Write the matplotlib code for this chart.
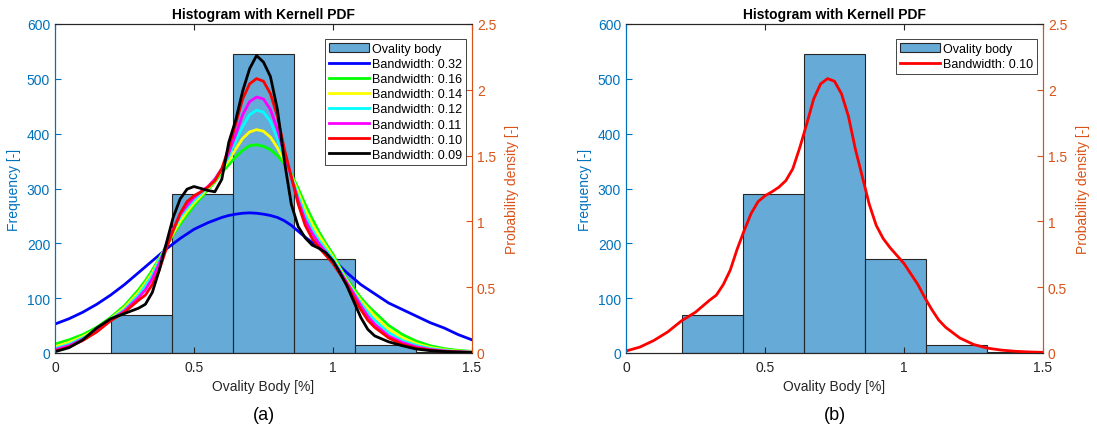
import matplotlib
matplotlib.use("Agg")
import matplotlib.pyplot as plt
import numpy as np

plt.rcParams["font.family"] = ["Liberation Sans", "DejaVu Sans"]

# histogram of ovality (bin edges in %, counts)
bin_edges = [0.2, 0.42, 0.64, 0.86, 1.08, 1.30, 1.52]
counts = [69, 290, 546, 172, 15, 2]

# kernel pdf curves (density on right axis)
x_pdf = [0, 0.05, 0.1, 0.15, 0.2, 0.25,
         0.3, 0.325, 0.35, 0.375, 0.4, 0.425, 0.45, 0.475, 0.5, 0.525, 0.55, 0.575, 0.6,
         0.625, 0.65, 0.675, 0.7, 0.725, 0.75, 0.775, 0.8, 0.825, 0.85,
         0.875, 0.9, 0.925, 0.95, 0.975, 1.0, 1.025, 1.05, 1.075, 1.1, 1.125, 1.15,
         1.2, 1.25, 1.3, 1.35, 1.4, 1.45, 1.5]
pdf_032 = [0.22, 0.26, 0.31, 0.37, 0.44, 0.52,
           0.61, 0.655, 0.70, 0.745, 0.79, 0.83, 0.87, 0.905, 0.94, 0.965, 0.99, 1.01, 1.03,
           1.045, 1.055, 1.062, 1.065, 1.062, 1.055, 1.045, 1.03, 1.005, 0.97,
           0.925, 0.88, 0.84, 0.80, 0.755, 0.71, 0.66, 0.61, 0.565, 0.52, 0.485, 0.45,
           0.38, 0.33, 0.28, 0.23, 0.19, 0.14, 0.10]
pdf_016 = [0.068, 0.10, 0.14, 0.195, 0.27, 0.36,
           0.48, 0.55, 0.63, 0.72, 0.81, 0.90, 0.98, 1.05, 1.12, 1.18, 1.24, 1.30, 1.37,
           1.43, 1.49, 1.54, 1.575, 1.583, 1.57, 1.545, 1.50, 1.44, 1.36,
           1.25, 1.13, 1.02, 0.92, 0.83, 0.75, 0.65, 0.56, 0.49, 0.42, 0.36, 0.31,
           0.21, 0.14, 0.09, 0.055, 0.033, 0.02, 0.012]
pdf_014 = [0.048, 0.08, 0.125, 0.18, 0.26, 0.345,
           0.46, 0.53, 0.61, 0.71, 0.815, 0.91, 1.00, 1.075, 1.14, 1.195, 1.25, 1.31, 1.39,
           1.46, 1.55, 1.63, 1.68, 1.697, 1.685, 1.64, 1.56, 1.46, 1.35,
           1.22, 1.09, 0.98, 0.89, 0.81, 0.73, 0.64, 0.55, 0.47, 0.40, 0.34, 0.28,
           0.18, 0.115, 0.07, 0.042, 0.025, 0.015, 0.009]
pdf_012 = [0.035, 0.065, 0.115, 0.17, 0.255, 0.33,
           0.44, 0.51, 0.59, 0.70, 0.82, 0.93, 1.03, 1.10, 1.16, 1.21, 1.26, 1.32, 1.40,
           1.49, 1.61, 1.72, 1.81, 1.845, 1.83, 1.76, 1.63, 1.48, 1.34,
           1.19, 1.05, 0.94, 0.855, 0.785, 0.715, 0.63, 0.54, 0.46, 0.38, 0.31, 0.25,
           0.155, 0.095, 0.058, 0.034, 0.02, 0.012, 0.007]
pdf_011 = [0.025, 0.055, 0.105, 0.165, 0.25, 0.32,
           0.42, 0.48, 0.565, 0.68, 0.82, 0.94, 1.05, 1.12, 1.18, 1.225, 1.265, 1.32, 1.40,
           1.52, 1.66, 1.81, 1.91, 1.945, 1.93, 1.85, 1.70, 1.51, 1.335,
           1.16, 1.01, 0.91, 0.83, 0.765, 0.70, 0.62, 0.535, 0.45, 0.36, 0.28, 0.22,
           0.13, 0.08, 0.047, 0.027, 0.016, 0.009, 0.006]
pdf_010 = [0.015, 0.045, 0.095, 0.16, 0.245, 0.31,
           0.40, 0.44, 0.52, 0.63, 0.79, 0.93, 1.06, 1.15, 1.195, 1.225, 1.26, 1.31, 1.40,
           1.56, 1.74, 1.93, 2.045, 2.085, 2.065, 1.97, 1.80, 1.55, 1.34,
           1.13, 0.97, 0.87, 0.80, 0.74, 0.68, 0.60, 0.52, 0.42, 0.33, 0.25, 0.195,
           0.115, 0.065, 0.037, 0.022, 0.013, 0.008, 0.005]
pdf_009 = [0.01, 0.04, 0.10, 0.19, 0.26, 0.30,
           0.34, 0.37, 0.46, 0.63, 0.83, 1.03, 1.17, 1.245, 1.265, 1.25, 1.235, 1.225, 1.32,
           1.60, 1.77, 1.99, 2.16, 2.26, 2.21, 2.10, 1.85, 1.46, 1.13,
           0.96, 0.875, 0.82, 0.795, 0.76, 0.70, 0.61, 0.51, 0.39, 0.27, 0.18, 0.13,
           0.085, 0.055, 0.03, 0.018, 0.011, 0.007, 0.004]

curves_a = [("0.32", pdf_032, "#0000ff"), ("0.16", pdf_016, "#00ff00"),
            ("0.14", pdf_014, "#ffff00"), ("0.12", pdf_012, "#00ffff"),
            ("0.11", pdf_011, "#ff00ff"), ("0.10", pdf_010, "#ff0000"),
            ("0.09", pdf_009, "#000000")]
curves_b = [("0.10", pdf_010, "#ff0000")]

BLUE = "#0072BD"
ORANGE = "#D95319"
GREY = "#262626"


def draw_panel(ax, curves, tag):
    edges = np.array(bin_edges)
    ax.bar(edges[:-1], counts, width=np.diff(edges), align="edge",
           facecolor=(0, 0.447, 0.741, 0.6), edgecolor=GREY, linewidth=0.8,
           label="Ovality body")
    ax.set_xlim(0, 1.5)
    ax.set_ylim(0, 600)
    ax.set_xticks([0, 0.5, 1, 1.5])
    ax.set_xticklabels(["0", "0.5", "1", "1.5"])
    ax.set_yticks(range(0, 601, 100))
    ax.tick_params(axis="x", direction="in", length=4, top=True, colors=GREY,
                   labelsize=10, pad=5)
    ax.tick_params(axis="y", direction="in", length=4, colors=BLUE, labelsize=10)
    ax.set_xlabel("Ovality Body [%]", color=GREY, fontsize=10, labelpad=4)
    ax.set_ylabel("Frequency [-]", color=BLUE, fontsize=10, labelpad=4)
    ax.set_title("Histogram with Kernell PDF", fontsize=10, fontweight="bold", pad=4)

    ax2 = ax.twinx()
    for bw, y, col in curves:
        ax2.plot(x_pdf, y, color=col, linewidth=2, solid_joinstyle="round",
                 label="Bandwidth: " + bw)
    ax2.set_ylim(0, 2.5)
    ax2.set_yticks([0, 0.5, 1, 1.5, 2, 2.5])
    ax2.set_yticklabels(["0", "0.5", "1", "1.5", "2", "2.5"])
    ax2.tick_params(axis="y", direction="in", length=4, colors=ORANGE, labelsize=10)
    ax2.set_ylabel("Probability density [-]", color=ORANGE, fontsize=10, labelpad=6)

    for a in (ax, ax2):
        a.spines["top"].set_color(GREY)
        a.spines["bottom"].set_color(GREY)
        a.spines["left"].set_color(BLUE)
        a.spines["right"].set_color(ORANGE)
        for s in a.spines.values():
            s.set_linewidth(0.8)

    h1, l1 = ax.get_legend_handles_labels()
    h2, l2 = ax2.get_legend_handles_labels()
    leg = ax2.legend(h1 + h2, l1 + l2, loc="upper right",
                     bbox_to_anchor=(0.986, 0.954), borderaxespad=0,
                     fontsize=9, handlelength=3.2, handletextpad=0.3,
                     borderpad=0.3, labelspacing=0.25, fancybox=False,
                     framealpha=1)
    leg.get_frame().set_edgecolor(GREY)
    leg.get_frame().set_linewidth(0.6)

    pos = ax.get_position()
    fig.text(pos.x0 + pos.width / 2, 0.045, tag, ha="center", va="center", fontsize=13)


fig = plt.figure(figsize=(10.97, 4.35), dpi=100)
ax_a = fig.add_axes([55 / 1097, 81 / 435, 417 / 1097, 329 / 435])
ax_b = fig.add_axes([626 / 1097, 81 / 435, 417 / 1097, 329 / 435])

draw_panel(ax_a, curves_a, "(a)")
draw_panel(ax_b, curves_b, "(b)")

fig.savefig("out.png", dpi=100)
